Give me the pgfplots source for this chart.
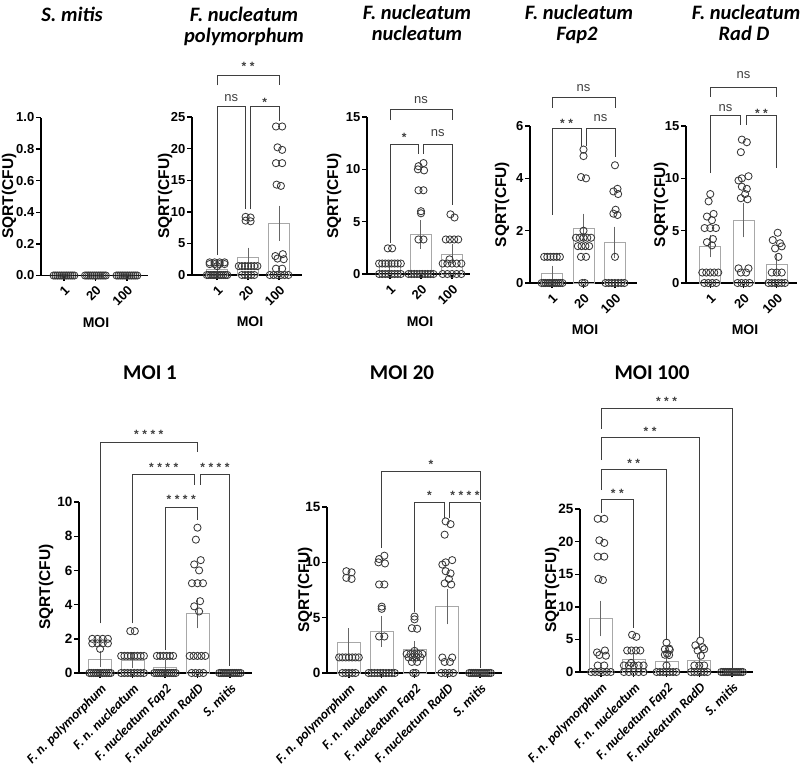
\documentclass[border=0pt]{standalone}
\usepackage{pgfplots}
\pgfplotsset{compat=1.18}
\usepackage{pgfplotstable}
\usepackage{fontspec}
\setmainfont{Liberation Sans}
\newfontfamily\carlito{Carlito}
\definecolor{ptc}{HTML}{383838}
\definecolor{barc}{HTML}{A8A8A8}
\definecolor{errc}{HTML}{666666}
\definecolor{brc}{HTML}{3F3F3F}

% ---- data: horizontal offset within group (dx) and SQRT(CFU) value (v)
\pgfplotstableread[row sep=\\]{dx v\\
-0.24 2\\-0.08 2\\0.08 2\\0.24 2\\-0.24 1.73\\-0.08 1.73\\0.08 1.73\\0.24 1.73\\0 1.41\\
-0.33 0\\-0.27 0\\-0.2 0\\-0.13 0\\-0.07 0\\0 0\\0.07 0\\0.13 0\\0.2 0\\0.27 0\\0.33 0\\}\FnpA
\pgfplotstableread[row sep=\\]{dx v\\
-0.08 9.2\\0.08 9.1\\-0.08 8.6\\0.08 8.5\\
-0.3 1.41\\-0.2 1.41\\-0.1 1.41\\0 1.41\\0.1 1.41\\0.2 1.41\\0.3 1.41\\
-0.2 0\\-0.1 0\\0 0\\0.1 0\\0.2 0\\}\FnpB
\pgfplotstableread[row sep=\\]{dx v\\
-0.1 23.5\\0.1 23.5\\-0.05 20.2\\0.1 19.8\\-0.1 17.7\\0.1 17.7\\-0.08 14.3\\0.06 14.1\\
0.12 3.3\\-0.12 3.0\\-0.05 2.6\\0.15 2.5\\-0.1 1.0\\0.1 1.0\\
-0.3 0\\-0.18 0\\-0.06 0\\0.06 0\\0.18 0\\0.3 0\\}\FnpC
\pgfplotstableread[row sep=\\]{dx v\\
-0.07 2.45\\0.07 2.45\\
-0.35 1\\-0.25 1\\-0.15 1\\-0.05 1\\0.05 1\\0.15 1\\0.25 1\\0.35 1\\
-0.35 0\\-0.25 0\\-0.15 0\\-0.05 0\\0.05 0\\0.15 0\\0.25 0\\0.35 0\\}\FnnA
\pgfplotstableread[row sep=\\]{dx v\\
0.08 10.6\\-0.08 10.3\\-0.1 10.0\\0.1 9.9\\-0.08 8.0\\0.08 8.0\\0 6.0\\0 5.8\\-0.08 3.3\\0.08 3.3\\
-0.4 0\\-0.31 0\\-0.22 0\\-0.13 0\\-0.04 0\\0.04 0\\0.13 0\\0.22 0\\0.31 0\\0.4 0\\}\FnnB
\pgfplotstableread[row sep=\\]{dx v\\
-0.05 5.7\\0.08 5.4\\-0.2 3.3\\-0.07 3.3\\0.07 3.3\\0.2 3.3\\-0.08 1.4\\
-0.3 1\\-0.15 1\\0 1\\0.15 1\\0.3 1\\
-0.3 0\\-0.15 0\\0 0\\0.15 0\\0.3 0\\}\FnnC
\pgfplotstableread[row sep=\\]{dx v\\
-0.25 1\\-0.15 1\\-0.05 1\\0.05 1\\0.15 1\\0.25 1\\
-0.33 0\\-0.26 0\\-0.2 0\\-0.13 0\\-0.07 0\\0 0\\0.07 0\\0.13 0\\0.2 0\\0.26 0\\0.33 0\\}\FapA
\pgfplotstableread[row sep=\\]{dx v\\
0 5.1\\0 4.85\\-0.08 4.05\\0.08 4.0\\0 2.0\\
-0.24 1.73\\-0.12 1.73\\0 1.73\\0.12 1.73\\0.24 1.73\\
-0.18 1.41\\-0.06 1.41\\0.06 1.41\\0.18 1.41\\
-0.08 1\\0.08 1\\-0.04 0\\0.04 0\\}\FapB
\pgfplotstableread[row sep=\\]{dx v\\
0 4.5\\0.08 3.6\\-0.05 3.5\\0.1 3.4\\0.02 2.8\\-0.05 2.65\\0.08 2.6\\0 1.0\\
-0.3 0\\-0.2 0\\-0.1 0\\0 0\\0.1 0\\0.2 0\\0.3 0\\}\FapC
\pgfplotstableread[row sep=\\]{dx v\\
0 8.5\\-0.05 7.8\\0.1 6.6\\-0.1 6.35\\0.05 6.0\\-0.17 5.25\\0 5.25\\0.17 5.25\\0.08 4.2\\-0.1 3.9\\0.05 3.6\\
-0.24 1\\-0.12 1\\0 1\\0.12 1\\0.24 1\\
-0.18 0\\-0.06 0\\0.06 0\\0.18 0\\}\RadA
\pgfplotstableread[row sep=\\]{dx v\\
-0.05 13.7\\0.1 13.45\\-0.08 12.5\\0.15 10.2\\-0.05 10.0\\-0.15 9.8\\-0.05 9.2\\0.1 9.0\\0.05 8.5\\-0.08 8.1\\0.12 8.0\\
-0.15 1.4\\0.15 1.4\\-0.08 1.0\\0.08 1.0\\
-0.18 0\\-0.06 0\\0.06 0\\0.18 0\\}\RadB
\pgfplotstableread[row sep=\\]{dx v\\
0.03 4.8\\-0.12 4.1\\0.1 3.8\\0.15 3.5\\-0.05 3.3\\0.05 2.5\\
-0.15 1\\0 1\\0.15 1\\
-0.25 0\\-0.15 0\\-0.05 0\\0.05 0\\0.15 0\\0.25 0\\}\RadC
\pgfplotstableread[row sep=\\]{dx v\\
-0.33 0\\-0.27 0\\-0.21 0\\-0.15 0\\-0.09 0\\-0.03 0\\0.03 0\\0.09 0\\0.15 0\\0.21 0\\0.27 0\\0.33 0\\}\Smit

\pgfplotsset{
  gp/.style={scale only axis, clip=false, anchor=south west,
    axis x line*=bottom, axis y line*=left,
    axis line style={-, line width=1.6pt, black},
    major tick style={line width=1.4pt, black},
    major tick length=5pt, tick align=outside, tick pos=left,
    ymin=0,
    /pgf/number format/assume math mode=true,
    yticklabel style={font=\bfseries\fontsize{13}{15}\selectfont, inner sep=1.5pt},
  },
  topx/.style={xtick={0,1,2}, xticklabels={1,20,100},
    xticklabel style={font=\bfseries\fontsize{13}{15}\selectfont, rotate=45, anchor=north east,
      inner sep=1pt}, xticklabel shift=3pt},
  botx/.style={xtick={0,1,2,3,4},
    xticklabels={F. n. polymorphum, F. n. nucleatum, F. nucleatum Fap2, F. nucleatum RadD, S. mitis},
    xticklabel style={font=\carlito\bfseries\itshape\fontsize{13.5}{15}\selectfont, rotate=45, anchor=north east,
      inner sep=1pt}, xticklabel shift=3pt,
    yticklabel style={font=\bfseries\fontsize{13.5}{15}\selectfont}},
  bars/.style={ybar, bar width=#1, bar shift=0pt, draw=barc, fill=none, line width=0.9pt,
    error bars/.cd, y dir=both, y explicit,
    error bar style={errc, line width=1pt},
    error mark options={errc, line width=1pt, mark size=4.5pt}},
  pts/.style={only marks, mark=o, mark size=3.6pt, color=ptc, mark options={line width=0.85pt}},
}
\newcommand{\brk}[5]{\draw[brc, line width=0.9pt] (axis cs:#1,#4) |- (axis cs:#2,#3) -- (axis cs:#2,#5);}
\newcommand{\stx}[3]{\node[brc, anchor=base, yshift=-7pt, inner sep=0pt, font=\bfseries\fontsize{12}{13}\selectfont] at (axis cs:#1,#2) {#3};}
\newcommand{\nsx}[2]{\node[brc, anchor=base, yshift=-3.3pt, inner sep=0pt, font=\fontsize{13}{14}\selectfont] at (axis cs:#1,#2) {ns};}
\newcommand{\sOne}{*}
\newcommand{\sTwo}{*\hspace{3.5pt}*}
\newcommand{\sThree}{*\hspace{3.5pt}*\hspace{3.5pt}*}
\newcommand{\sFour}{*\hspace{3.5pt}*\hspace{3.5pt}*\hspace{3.5pt}*}
\newcommand{\ttl}{\carlito\bfseries\itshape\fontsize{20.5}{23}\selectfont}
\newcommand{\ylab}{\bfseries\fontsize{15.5}{17}\selectfont}

\begin{document}
\begin{tikzpicture}
\useasboundingbox (0pt,0pt) rectangle (800pt,-771pt);

% ---------- titles and labels of the top row
\node[anchor=base, font=\ttl] at (72pt,-21pt) {S. mitis};
\node[anchor=base, font=\ttl] at (244pt,-21pt) {F. nucleatum};
\node[anchor=base, font=\ttl] at (244pt,-42.5pt) {polymorphum};
\node[anchor=base, font=\ttl] at (417pt,-19pt) {F. nucleatum};
\node[anchor=base, font=\ttl] at (417pt,-40pt) {nucleatum};
\node[anchor=base, font=\ttl] at (579pt,-19pt) {F. nucleatum};
\node[anchor=base, font=\ttl] at (577pt,-40pt) {Fap2};
\node[anchor=base, font=\ttl] at (746pt,-19pt) {F. nucleatum};
\node[anchor=base, font=\ttl] at (744pt,-40pt) {Rad D};
\foreach \xx/\yy in {96/323,250/322,420/322,585/330,745/330}
  \node[font=\bfseries\fontsize{14}{16}\selectfont] at (\xx pt,-\yy pt) {MOI};
\foreach \xx/\yy in {9/196,165/196,334/196,502/204.5,661/204.5}
  \node[rotate=90, font=\ylab] at (\xx pt,-\yy pt) {SQRT(CFU)};

% ---------- S. mitis
\begin{axis}[gp, topx, at={(41pt,-275.5pt)}, width=107pt, height=158pt,
  xmin=-0.73, xmax=2.67, ymax=1,
  ytick={0,0.2,0.4,0.6,0.8,1}, yticklabels={0.0,0.2,0.4,0.6,0.8,1.0}]
\addplot[pts] table[x expr=\thisrow{dx}, y=v] {\Smit};
\addplot[pts] table[x expr=\thisrow{dx}+1, y=v] {\Smit};
\addplot[pts] table[x expr=\thisrow{dx}+2, y=v] {\Smit};
\end{axis}

% ---------- F. n. polymorphum
\begin{axis}[gp, topx, at={(192pt,-275pt)}, width=110pt, height=158pt,
  xmin=-0.81, xmax=2.74, ymax=25,
  ytick={0,5,10,15,20,25}, yticklabels={0,5,10,15,20,25}]
\addplot[bars=21pt] coordinates {(0,0.82) +- (0,0.21) (1,2.75) +- (0,0.87) (2,8.2) +- (0,2.05)};
\addplot[pts] table[x expr=\thisrow{dx}, y=v] {\FnpA};
\addplot[pts] table[x expr=\thisrow{dx}+1, y=v] {\FnpB};
\addplot[pts] table[x expr=\thisrow{dx}+2, y=v] {\FnpC};
\brk{0}{2}{31.6}{30}{30} \stx{1}{33.5}{\sTwo}
\brk{0}{0.92}{26.6}{3.2}{10.4} \nsx{0.46}{28.0}
\brk{1.08}{2}{26.6}{10.4}{24.3} \stx{1.54}{27.7}{\sOne}
\end{axis}

% ---------- F. n. nucleatum
\begin{axis}[gp, topx, at={(367pt,-274pt)}, width=103pt, height=157pt,
  xmin=-0.74, xmax=2.58, ymax=15,
  ytick={0,5,10,15}, yticklabels={0,5,10,15}]
\addplot[bars=21pt] coordinates {(0,0.75) +- (0,0.2) (1,3.75) +- (0,0.95) (2,1.9) +- (0,0.5)};
\addplot[pts] table[x expr=\thisrow{dx}, y=v] {\FnnA};
\addplot[pts] table[x expr=\thisrow{dx}+1, y=v] {\FnnB};
\addplot[pts] table[x expr=\thisrow{dx}+2, y=v] {\FnnC};
\brk{0}{2}{15.7}{14.7}{14.7} \nsx{1}{16.6}
\brk{0}{0.92}{12.4}{3.0}{11.5} \stx{0.46}{13.3}{\sOne}
\brk{1.08}{2}{12.4}{11.5}{6.6} \nsx{1.54}{13.5}
\end{axis}

% ---------- F. nucleatum Fap2
\begin{axis}[gp, topx, at={(530pt,-283pt)}, width=107pt, height=157pt,
  xmin=-0.70, xmax=2.70, ymax=6,
  ytick={0,2,4,6}, yticklabels={0,2,4,6}]
\addplot[bars=21pt] coordinates {(0,0.35) +- (0,0.14) (1,2.1) +- (0,0.38) (2,1.55) +- (0,0.43)};
\addplot[pts] table[x expr=\thisrow{dx}, y=v] {\FapA};
\addplot[pts] table[x expr=\thisrow{dx}+1, y=v] {\FapB};
\addplot[pts] table[x expr=\thisrow{dx}+2, y=v] {\FapC};
\brk{0}{2}{7.1}{6.7}{6.7} \nsx{1}{7.45}
\brk{0}{0.92}{5.9}{2.6}{5.25} \stx{0.46}{6.2}{\sTwo}
\brk{1.08}{2}{5.9}{5.25}{4.8} \nsx{1.54}{6.3}
\end{axis}

% ---------- F. nucleatum RadD
\begin{axis}[gp, topx, at={(686pt,-283pt)}, width=111pt, height=157pt,
  xmin=-0.73, xmax=2.61, ymax=15,
  ytick={0,5,10,15}, yticklabels={0,5,10,15}]
\addplot[bars=21pt] coordinates {(0,3.5) +- (0,0.62) (1,6.0) +- (0,1.2) (2,1.75) +- (0,0.55)};
\addplot[pts] table[x expr=\thisrow{dx}, y=v] {\RadA};
\addplot[pts] table[x expr=\thisrow{dx}+1, y=v] {\RadB};
\addplot[pts] table[x expr=\thisrow{dx}+2, y=v] {\RadC};
\brk{0}{2}{18.7}{17.8}{17.8} \nsx{1}{19.9}
\brk{0}{0.92}{16}{10.5}{15.1} \nsx{0.46}{16.7}
\brk{1.08}{2}{16}{15.1}{11} \stx{1.54}{16.5}{\sTwo}
\end{axis}

% ---------- bottom row titles and labels
\foreach \xx/\tt in {150/MOI 1,402/MOI 20,652/MOI 100}
  \node[font=\carlito\bfseries\fontsize{21}{24}\selectfont] at (\xx pt,-373pt) {\tt};
\foreach \xx/\yy in {46/587,305/590,552/590}
  \node[rotate=90, font=\ylab] at (\xx pt,-\yy pt) {SQRT(CFU)};

% ---------- MOI 1
\begin{axis}[gp, botx, at={(79pt,-673pt)}, width=173pt, height=171pt,
  xmin=-0.65, xmax=4.68, ymax=10,
  ytick={0,2,4,6,8,10}, yticklabels={0,2,4,6,8,10}]
\addplot[bars=23pt] coordinates {(0,0.82) +- (0,0.21) (1,0.75) +- (0,0.2) (2,0.35) +- (0,0.14) (3,3.5) +- (0,0.62)};
\addplot[pts] table[x expr=\thisrow{dx}, y=v] {\FnpA};
\addplot[pts] table[x expr=\thisrow{dx}+1, y=v] {\FnnA};
\addplot[pts] table[x expr=\thisrow{dx}+2, y=v] {\FapA};
\addplot[pts] table[x expr=\thisrow{dx}+3, y=v] {\RadA};
\addplot[pts] table[x expr=\thisrow{dx}+4, y=v] {\Smit};
\brk{0}{3}{13.5}{2.9}{12.9} \stx{1.5}{14.15}{\sFour}
\brk{1}{2.92}{11.6}{2.9}{11} \stx{1.96}{12.2}{\sFour}
\brk{3.08}{4}{11.6}{11}{0.4} \stx{3.54}{12.2}{\sFour}
\brk{2}{3}{9.7}{1.35}{8.95} \stx{2.5}{10.35}{\sFour}
\end{axis}

% ---------- MOI 20
\begin{axis}[gp, botx, at={(327pt,-673pt)}, width=175pt, height=166pt,
  xmin=-0.67, xmax=4.67, ymax=15,
  ytick={0,5,10,15}, yticklabels={0,5,10,15}]
\addplot[bars=23pt] coordinates {(0,2.75) +- (0,0.87) (1,3.75) +- (0,0.95) (2,2.1) +- (0,0.38) (3,6.0) +- (0,1.2)};
\addplot[pts] table[x expr=\thisrow{dx}, y=v] {\FnpB};
\addplot[pts] table[x expr=\thisrow{dx}+1, y=v] {\FnnB};
\addplot[pts] table[x expr=\thisrow{dx}+2, y=v] {\FapB};
\addplot[pts] table[x expr=\thisrow{dx}+3, y=v] {\RadB};
\addplot[pts] table[x expr=\thisrow{dx}+4, y=v] {\Smit};
\brk{1}{4}{18.2}{11.3}{15.6} \stx{2.5}{19.1}{\sOne}
\brk{2}{2.92}{15.45}{5.5}{14} \stx{2.46}{16.3}{\sOne}
\brk{3.08}{4}{15.45}{14}{0.45} \stx{3.54}{16.3}{\sFour}
\end{axis}

% ---------- MOI 100
\begin{axis}[gp, botx, at={(580pt,-672pt)}, width=173pt, height=163pt,
  xmin=-0.64, xmax=4.64, ymax=25,
  ytick={0,5,10,15,20,25}, yticklabels={0,5,10,15,20,25}]
\addplot[bars=23pt] coordinates {(0,8.2) +- (0,2.05) (1,1.9) +- (0,0.5) (2,1.55) +- (0,0.43) (3,1.75) +- (0,0.55)};
\addplot[pts] table[x expr=\thisrow{dx}, y=v] {\FnpC};
\addplot[pts] table[x expr=\thisrow{dx}+1, y=v] {\FnnC};
\addplot[pts] table[x expr=\thisrow{dx}+2, y=v] {\FapC};
\addplot[pts] table[x expr=\thisrow{dx}+3, y=v] {\RadC};
\addplot[pts] table[x expr=\thisrow{dx}+4, y=v] {\Smit};
\brk{0}{4}{40.5}{37.3}{0.6} \stx{2}{41.9}{\sThree}
\brk{0}{3}{35.9}{32.5}{5.2} \stx{1.5}{37.3}{\sTwo}
\brk{0}{2}{31}{27.9}{4.9} \stx{1}{32.5}{\sTwo}
\brk{0}{1}{26.4}{24.4}{6.7} \stx{0.5}{27.9}{\sTwo}
\end{axis}
\end{tikzpicture}
\end{document}
